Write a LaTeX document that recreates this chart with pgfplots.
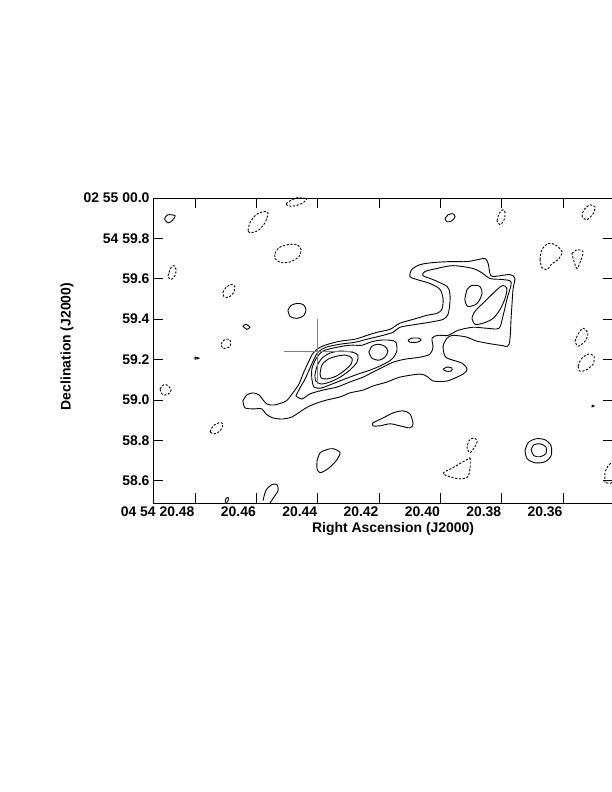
\documentclass[border=0pt]{standalone}
\usepackage{fontspec}
\setmainfont{Liberation Sans}
\usepackage{pgfplots}
\pgfplotsset{compat=1.18}
% x: RA seconds x1000 - 20000 (480 = 20.480 s), y: Dec arcsec x1000 - 58000 (1000 = 59.000")
\pgfplotsset{
  pos/.style={black, line width=0.9bp, smooth, tension=0.5, mark=none},
  neg/.style={pos, dash pattern=on 2.2bp off 1.6bp},
}
\begin{document}
\begin{tikzpicture}[x=1bp,y=1bp]
\useasboundingbox (0,0) rectangle (612,792);
\begin{axis}[
  at={(153bp,289bp)}, anchor=south west,
  width=460bp, height=305bp, scale only axis,
  x dir=reverse,
  xmin=343.7, xmax=493.7, ymin=490, ymax=2000,
  xtick={360,380,400,420,440,460,480},
  xticklabels={20.36,20.38,20.40,20.42,20.44,20.46,04 54 20.48},
  ytick={600,800,1000,1200,1400,1600,1800,2000},
  yticklabels={58.6,58.8,59.0,59.2,59.4,59.6,54 59.8,02 55 00.0},
  tick align=inside, major tick length=10bp,
  axis line style={line width=0.8bp},
  every tick/.style={black, line width=0.8bp},
  tick label style={font=\bfseries\fontsize{14}{16}\selectfont},
  label style={font=\bfseries\fontsize{14}{16}\selectfont},
  xticklabel style={anchor=north east, xshift=3bp},
  yticklabel style={anchor=east},
  xlabel={Right Ascension (J2000)},
  xlabel style={at={(axis description cs:0.522,-0.085)}, anchor=center},
  ylabel={Declination (J2000)},
  ylabel style={at={(axis description cs:-0.187,0.513)}, anchor=center},
]
% main source, level 0.013
\addplot[pos] coordinates {(464.4,995) (463.1,1025) (461.1,1035) (459.1,1025) (457.8,1000) (456.5,980) (454.2,975) (450.3,995) (448.1,1035) (446.1,1079) (444.8,1128) (443.2,1182) (441.5,1232) (439.2,1261) (436.6,1276) (432.7,1291) (427.8,1301) (423.9,1320) (420.7,1335) (416.4,1350) (413.2,1380) (408.9,1399) (404.4,1419) (401.1,1429) (399.5,1449) (399.1,1498) (400.1,1547) (403.4,1577) (407.6,1596) (409.9,1611) (409.3,1646) (406.6,1670) (402.4,1680) (396.9,1685) (391.3,1685) (387.7,1695) (385.4,1700) (384.4,1675) (383.8,1626) (382.8,1611) (377.3,1621) (375.7,1601) (376.3,1547) (376.9,1414) (377.6,1276) (380.5,1271) (388.0,1291) (391.3,1311) (395.9,1320) (397.8,1306) (399.1,1266) (398.5,1217) (396.9,1202) (392.9,1182) (391.3,1153) (392.6,1128) (397.8,1094) (402.4,1094) (404.0,1113) (406.6,1128) (413.2,1113) (417.4,1089) (422.0,1069) (425.2,1049) (429.5,1035) (432.7,1015) (437.0,1000) (440.2,985) (443.2,966) (445.8,941) (448.4,916) (451.3,906) (454.6,911) (456.9,931) (458.2,956) (461.1,956) (463.7,961) (464.4,995)};
% level 0.02
\addplot[pos] coordinates {(447.1,1020) (445.8,1059) (444.1,1104) (442.8,1148) (441.5,1192) (439.9,1237) (437.3,1261) (432.7,1276) (427.8,1286) (423.9,1301) (419.7,1316) (415.4,1335) (413.2,1360) (407.6,1375) (403.4,1385) (399.1,1399) (397.5,1424) (396.9,1478) (396.9,1527) (397.8,1562) (402.4,1596) (405.7,1616) (405.0,1636) (401.1,1651) (395.9,1665) (389.4,1651) (386.1,1626) (383.8,1601) (379.6,1596) (376.9,1582) (378.3,1498) (379.6,1414) (380.9,1355) (384.8,1355) (389.4,1360) (394.2,1345) (397.5,1320) (400.8,1320) (402.7,1306) (402.4,1261) (403.4,1227) (406.6,1212) (411.5,1202) (415.4,1187) (418.7,1163) (422.0,1138) (425.2,1113) (429.5,1089) (433.7,1064) (438.3,1049) (442.5,1030) (445.1,1005) (447.1,1020)};
\addplot[pos] coordinates {(399.1,1153) (397.8,1163) (396.2,1158) (396.5,1143) (398.2,1143) (399.1,1153)};
% level 0.03
\addplot[pos] coordinates {(441.9,1104) (441.9,1153) (440.6,1202) (438.3,1242) (433.7,1261) (429.5,1271) (425.5,1271) (422.9,1286) (419.7,1296) (416.4,1296) (414.5,1286) (414.2,1242) (415.8,1202) (419.0,1173) (422.9,1148) (426.9,1128) (431.1,1104) (435.3,1079) (438.9,1059) (441.2,1064) (441.9,1104)};
\addplot[pos] coordinates {(410.5,1296) (409.3,1306) (407.0,1306) (406.3,1296) (407.6,1286) (409.9,1286) (410.5,1296)};
\addplot[pos] coordinates {(391.3,1547) (389.7,1567) (387.1,1562) (386.4,1527) (388.0,1478) (391.0,1463) (392.0,1498) (391.3,1547)};
\addplot[pos] coordinates {(389.7,1404) (388.7,1439) (384.8,1498) (381.5,1547) (379.6,1567) (378.3,1552) (378.9,1503) (380.5,1449) (382.8,1404) (386.1,1380) (388.7,1375) (389.7,1404)};
% level 0.04
\addplot[pos] coordinates {(440.9,1123) (440.2,1168) (438.6,1207) (436.0,1232) (432.7,1242) (428.8,1237) (426.9,1222) (427.2,1187) (429.5,1148) (432.7,1113) (436.0,1089) (438.9,1079) (440.6,1094) (440.9,1123)};
\addplot[pos] coordinates {(423.3,1237) (422.3,1266) (420.3,1276) (418.1,1266) (417.1,1241) (418.1,1212) (420.0,1197) (422.3,1207) (423.3,1237)};
% level 0.05
\addplot[pos] coordinates {(439.2,1133) (438.6,1173) (436.6,1202) (433.7,1217) (430.8,1222) (428.8,1207) (429.1,1178) (431.1,1148) (434.0,1118) (437.0,1104) (438.9,1109) (439.2,1133)};
% isolated positive contours
\addplot[pos] coordinates {(489.8,1902) (488.8,1917) (486.5,1912) (487.5,1887) (488.8,1877) (489.8,1892) (489.8,1902)};
\addplot[pos] coordinates {(449.7,1444) (448.7,1468) (446.7,1478) (444.8,1473) (443.8,1449) (444.5,1419) (446.7,1404) (449.0,1414) (449.7,1444)};
\addplot[pos] coordinates {(464.4,1365) (463.4,1375) (462.1,1360) (463.1,1350) (464.4,1365)};
\addplot[pos] coordinates {(480.0,1212) (478.7,1207) (480.0,1202) (480.0,1212)};
\addplot[pos] coordinates {(457.8,502) (456.9,552) (454.9,581) (453.3,581) (452.9,552) (454.6,512) (456.2,473)};
\addplot[pos] coordinates {(470.2,492) (469.9,512) (469.2,517) (469.2,502) (469.9,487)};
\addplot[pos] coordinates {(440.2,699) (439.2,739) (437.0,754) (435.0,759) (432.7,739) (434.0,699) (436.6,660) (439.2,640) (440.2,660) (440.2,699)};
\addplot[pos] coordinates {(422.0,887) (418.7,911) (415.4,936) (412.2,946) (409.9,931) (408.9,882) (409.9,862) (413.2,872) (416.4,882) (419.7,872) (422.0,872) (422.0,887)};
\addplot[pos] coordinates {(398.5,1897) (397.5,1917) (395.9,1922) (395.2,1907) (396.2,1887) (397.8,1882) (398.5,1897)};
\addplot[pos] coordinates {(372.4,749) (371.4,788) (368.8,808) (365.9,803) (363.9,773) (363.9,724) (365.9,694) (369.1,689) (371.7,709) (372.4,749)};
\addplot[pos] coordinates {(370.4,754) (369.5,778) (367.5,783) (365.6,768) (365.6,734) (367.5,719) (369.5,724) (370.4,754)};
\addplot[pos] coordinates {(350.5,975) (349.9,970) (350.5,966) (350.5,975)};
% negative contours, level -0.013
\addplot[neg] coordinates {(450.3,1971) (449.0,1986) (446.7,2001) (444.1,2006) (443.5,1996) (444.8,1976) (447.4,1961) (449.7,1961) (450.3,1971)};
\addplot[neg] coordinates {(462.7,1838) (462.1,1877) (460.1,1917) (457.8,1932) (456.2,1927) (457.2,1877) (459.5,1838) (462.1,1828) (462.7,1838)};
\addplot[neg] coordinates {(453.9,1725) (452.6,1754) (449.7,1769) (446.7,1769) (445.4,1744) (446.1,1710) (448.7,1685) (452.0,1680) (453.9,1700) (453.9,1725)};
\addplot[neg] coordinates {(488.5,1631) (487.8,1656) (486.9,1665) (486.2,1646) (486.5,1616) (487.8,1596) (488.8,1611) (488.5,1631)};
\addplot[neg] coordinates {(470.9,1532) (469.9,1557) (468.3,1572) (467.0,1562) (467.6,1527) (469.2,1508) (470.6,1513) (470.9,1532)};
\addplot[neg] coordinates {(471.5,1276) (470.6,1296) (468.9,1301) (468.3,1281) (468.9,1261) (470.9,1256) (471.5,1276)};
\addplot[neg] coordinates {(491.4,1054) (490.4,1074) (489.1,1074) (487.8,1049) (489.1,1025) (490.8,1030) (491.4,1054)};
\addplot[neg] coordinates {(475.1,842) (474.1,872) (472.2,887) (470.9,882) (471.8,847) (473.8,832) (475.1,842)};
\addplot[neg] coordinates {(381.5,1887) (380.9,1922) (379.6,1942) (378.9,1927) (379.2,1892) (380.5,1868) (381.5,1887)};
\addplot[neg] coordinates {(353.8,1907) (353.2,1942) (351.2,1966) (349.6,1956) (350.2,1922) (352.2,1892) (353.8,1907)};
\addplot[neg] coordinates {(367.5,1695) (366.9,1744) (364.9,1774) (362.6,1769) (360.3,1734) (361.6,1695) (363.6,1675) (365.2,1646) (366.9,1656) (367.5,1695)};
\addplot[neg] coordinates {(357.1,1725) (355.4,1744) (353.5,1734) (354.1,1695) (355.4,1651) (356.4,1685) (357.1,1725)};
\addplot[neg] coordinates {(356.1,1291) (355.1,1325) (353.5,1355) (351.9,1330) (352.8,1291) (355.1,1266) (356.1,1291)};
\addplot[neg] coordinates {(355.1,1168) (354.1,1202) (351.9,1227) (349.9,1217) (350.2,1178) (352.5,1148) (354.5,1143) (355.1,1168)};
\addplot[neg] coordinates {(391.3,759) (390.7,798) (389.0,813) (388.0,793) (389.0,763) (390.3,739) (391.3,759)};
\addplot[neg] coordinates {(390.3,714) (390.3,660) (391.3,616) (394.6,611) (399.1,635) (395.9,665) (392.0,699) (390.3,714)};
\addplot[neg] coordinates {(346.3,591) (346.3,640) (345.0,680) (343.4,689) (342.7,640) (344.0,591) (346.3,591)};
% cross
\addplot[gray, line width=1bp, mark=none] coordinates {(451.0,1241.5) (428.5,1241.5)};
\addplot[gray, line width=1bp, mark=none] coordinates {(439.9,1399) (439.9,1079)};
\node[anchor=west, font=\bfseries\fontsize{14}{16}\selectfont] at (axis description cs:0,-0.184) {Levs = (-0.013, 0.013, 0.02, 0.03, 0.04, 0.05) mJy/BEAM};
\end{axis}
\end{tikzpicture}
\end{document}
